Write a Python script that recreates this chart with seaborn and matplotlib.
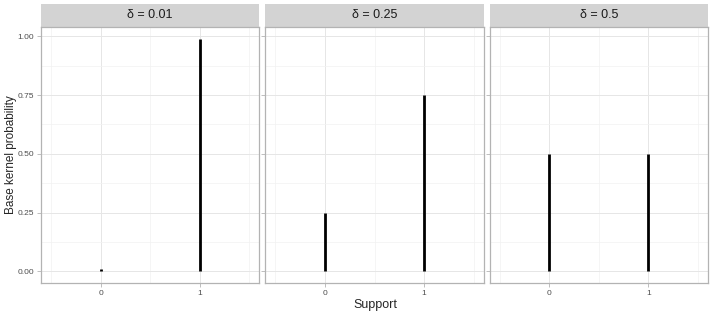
import pandas as pd
import matplotlib
matplotlib.use("Agg")
import matplotlib.pyplot as plt
from matplotlib.patches import Rectangle
from matplotlib.ticker import MultipleLocator
import seaborn as sns

# values
deltas = ["0.01", "0.25", "0.5"]
support = [0, 1]
prob_001 = [0.01, 0.99]
prob_025 = [0.25, 0.75]
prob_05 = [0.5, 0.5]
y_ticks = [0.0, 0.25, 0.5, 0.75, 1.0]
y_labels = ["0.00", "0.25", "0.50", "0.75", "1.00"]

rows = []
for d, probs in zip(deltas, [prob_001, prob_025, prob_05]):
    for s, p in zip(support, probs):
        rows.append({"delta": d, "support": s, "prob": p, "zero": 0.0})
df = pd.DataFrame(rows)

sns.set_style("white")
plt.rcParams["font.family"] = ["Liberation Sans", "DejaVu Sans"]

g = sns.FacetGrid(df, col="delta", col_order=deltas, sharey=True, sharex=True)
g.map(plt.vlines, "support", "zero", "prob", color="black", linewidth=2.0)

fig = g.figure
fig.set_size_inches(7.14, 3.17)
fig.subplots_adjust(left=41 / 714, right=708 / 714, bottom=1 - 283 / 317,
                    top=1 - 27 / 317, wspace=6 / 218)

for ax, d in zip(g.axes.flat, deltas):
    ax.set_xlim(-0.6, 1.6)
    ax.set_ylim(-0.0495, 1.0395)
    ax.set_xticks(support)
    ax.set_xticklabels([str(s) for s in support])
    ax.set_yticks(y_ticks)
    ax.set_yticklabels(y_labels)
    ax.yaxis.set_minor_locator(MultipleLocator(0.125))
    ax.xaxis.set_minor_locator(MultipleLocator(0.5))
    ax.grid(True, which="major", color="#e6e6e6", linewidth=0.7)
    ax.grid(True, which="minor", color="#f2f2f2", linewidth=0.5)
    ax.set_axisbelow(True)
    for sp in ax.spines.values():
        sp.set_visible(True)
        sp.set_color("#b3b3b3")
        sp.set_linewidth(0.9)
    ax.tick_params(axis="both", which="major", length=3, width=0.6,
                   color="#b3b3b3", labelsize=6, labelcolor="#4d4d4d",
                   left=True, bottom=True, pad=2)
    ax.tick_params(axis="both", which="minor", length=0)
    ax.set_title("")
    ax.set_xlabel("")
    ax.set_ylabel("")
    ax.add_patch(Rectangle((0, 1), 1, 23 / 256, transform=ax.transAxes,
                           clip_on=False, facecolor="#d3d3d3",
                           edgecolor="none"))
    ax.text(0.5, 1 + 11.5 / 256, "\u03b4 = " + d, transform=ax.transAxes,
            ha="center", va="center", fontsize=9, color="#1a1a1a")

g.axes.flat[0].tick_params(labelleft=True)
fig.text(375 / 714, 1 - 305 / 317, "Support", ha="center", va="center",
         fontsize=9)
fig.text(11 / 714, 1 - 155 / 317, "Base kernel probability", ha="center",
         va="center", rotation=90, fontsize=8.5)

fig.savefig("out.png", dpi=100)
